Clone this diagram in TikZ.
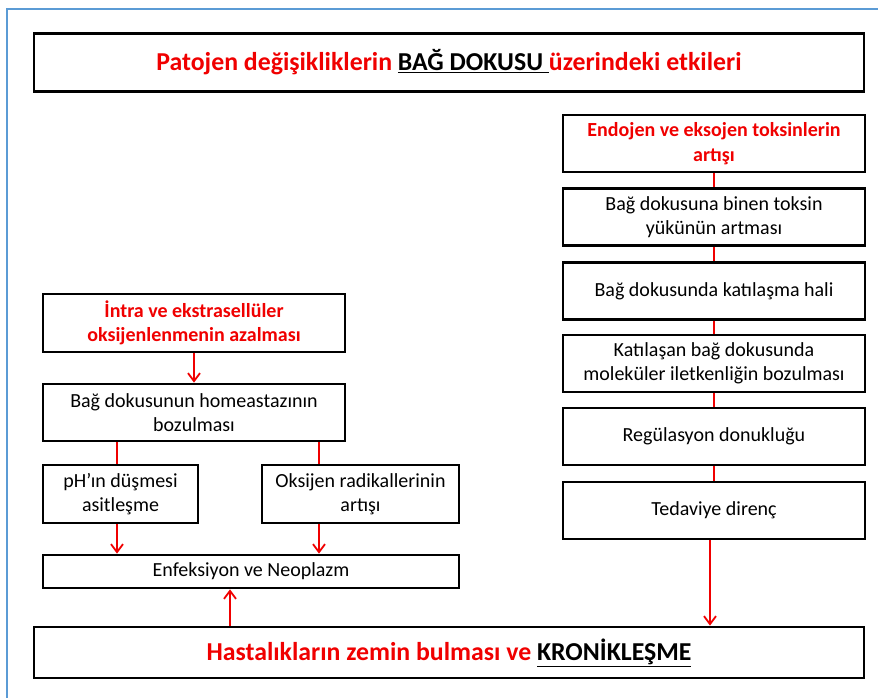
\documentclass[tikz,border=0pt]{standalone}
\usepackage{fontspec}
\setmainfont{Carlito}
\usetikzlibrary{arrows.meta}
\definecolor{frameblue}{RGB}{91,155,213}
\definecolor{myred}{RGB}{240,0,0}
\tikzset{
  box/.style={draw=black, line width=2.8pt, fill=white, rectangle, align=center, inner sep=0pt, font=\fontsize{20}{24.5}\selectfont},
  redtxt/.style={text=myred, font=\fontsize{20}{24.5}\selectfont\bfseries},
  conn/.style={draw=myred, line width=1.8pt},
  arr/.style={conn, -{Straight Barb[length=8pt,width=12pt,line width=1.8pt]}},
}
\begin{document}
\begin{tikzpicture}[x=1pt,y=-1pt]
\useasboundingbox (0,0) rectangle (878,698);
\fill[white] (0,0) rectangle (878,698);
\draw[frameblue, line width=1.3pt] (7,700) -- (7,9) -- (880,9);

% title
\node[box, minimum width=830, minimum height=58, font=\fontsize{25.8}{30}\selectfont\bfseries, text=myred] (title) at (449,62.5)
  {Patojen değişikliklerin \textcolor{black}{\underline{BAĞ DOKUSU\ }}üzerindeki etkileri};

% right column
\node[box, redtxt, minimum width=302, minimum height=57] (r1) at (714,143.5) {Endojen ve eksojen toksinlerin\\artışı};
\node[box, minimum width=302, minimum height=57] (r2) at (714,217) {Bağ dokusuna binen toksin\\yükünün artması};
\node[box, minimum width=302, minimum height=57] (r3) at (714,291) {Bağ dokusunda katılaşma hali};
\node[box, minimum width=302, minimum height=57] (r4) at (714,363.5) {Katılaşan bağ dokusunda\\moleküler iletkenliğin bozulması};
\node[box, minimum width=302, minimum height=57] (r5) at (714,436.5) {Regülasyon donukluğu};
\node[box, minimum width=302, minimum height=57] (r6) at (714,510.5) {Tedaviye direnç};

% left column
\node[box, redtxt, minimum width=302, minimum height=58] (l1) at (194,323) {İntra ve ekstrasellüler\\oksijenlenmenin azalması};
\node[box, minimum width=302, minimum height=57] (l2) at (194,412.5) {Bağ dokusunun homeastazının\\bozulması};
\node[box, minimum width=155, minimum height=58] (ph) at (120.5,494) {pH’ın düşmesi\\asitleşme};
\node[box, minimum width=197, minimum height=58] (ok) at (360.5,494) {Oksijen radikallerinin\\artışı};
\node[box, minimum width=416, minimum height=33] (enf) at (251,571.5) {Enfeksiyon ve Neoplazm};

% bottom
\node[box, minimum width=830, minimum height=51, font=\fontsize{25.8}{30}\selectfont\bfseries, text=myred] (fin) at (449,652.5)
  {Hastalıkların zemin bulması ve \textcolor{black}{\underline{KRONİKLEŞME}}};

\coordinate (xa) at (117,0);
\coordinate (xb) at (319,0);
\coordinate (xc) at (710,0);
\coordinate (xd) at (230,0);

% connectors right
\draw[conn] (r1) -- (r2);
\draw[conn] (r2) -- (r3);
\draw[conn] (r3) -- (r4);
\draw[conn] (r4) -- (r5);
\draw[conn] (r5) -- (r6);
\draw[arr] (r6.south -| xc) -- (fin.north -| xc);

% connectors left
\draw[arr] (l1) -- (l2);
\draw[conn] (l2.south -| xa) -- (ph.north -| xa);
\draw[conn] (l2.south -| xb) -- (ok.north -| xb);
\draw[arr] (ph.south -| xa) -- (enf.north -| xa);
\draw[arr] (ok.south -| xb) -- (enf.north -| xb);
\draw[arr] (fin.north -| xd) -- (enf.south -| xd);
\end{tikzpicture}
\end{document}
